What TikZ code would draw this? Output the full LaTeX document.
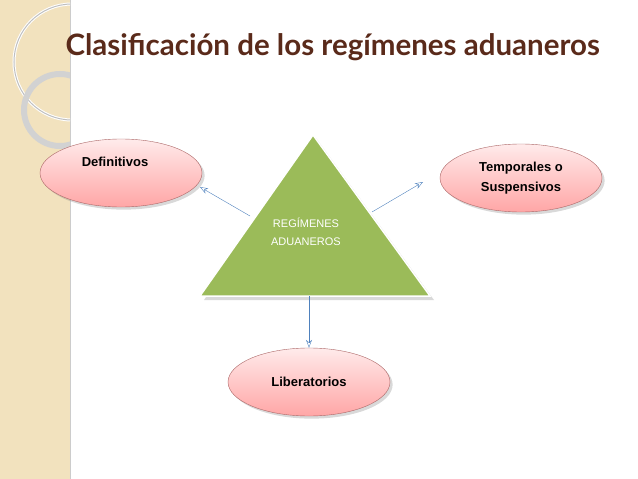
\documentclass[tikz,border=0pt]{standalone}
\usepackage{fontspec}
\setmainfont{Liberation Sans}
\newfontfamily\titlefont{Lato}
\usetikzlibrary{shapes.geometric,arrows.meta,shadows}
\definecolor{titlebrown}{HTML}{5A2A1A}
\definecolor{bandbeige}{HTML}{F2E2BE}
\definecolor{leafgreen}{HTML}{9BBB59}
\definecolor{linkblue}{HTML}{4F81BD}
\tikzset{
  regime/.style={ellipse, draw=red!45!black!60, top color=red!8, bottom color=red!35,
    minimum width=162pt, minimum height=68pt, font=\bfseries\fontsize{13}{20}\selectfont,
    align=center, drop shadow={opacity=0.3}},
  link/.style={-{Stealth[open,length=8pt]}, linkblue, thin}
}
\begin{document}
\begin{tikzpicture}[x=1pt,y=-1pt]
        \useasboundingbox (0,0) rectangle (638,479);
        % left band with rings
        \fill[bandbeige] (0,0) rectangle (70,479);
        \draw[gray!40] (70,0)--(70,479);
        \begin{scope}
            \clip (0,0) rectangle (70,479);
            \draw[white,line width=3pt] (72,62) circle(58);
            \draw[gray!50,line width=1pt] (72,62) circle(58);
            \draw[gray!35,line width=6pt] (60,110) circle(36);
        \end{scope}
        
        \node[anchor=west,text=titlebrown,font=\titlefont\bfseries\fontsize{29.5}{32}\selectfont] (title) at (62,47){Clasificación de los regímenes aduaneros};
        
        \node[regime] (D) at (121,173){};
        \node[font=\bfseries\fontsize{13}{20}\selectfont] (Dt) at (115,162){Definitivos};
        \node[regime] (T) at (521,178){Temporales o\\Suspensivos};
        \node[regime] (L) at (309,382){Liberatorios};
        
        \fill[black,opacity=0.15] (316,138)--(434,300)--(204,300)--cycle;
        \draw[leafgreen,fill=leafgreen,draw=white,line width=1.5pt] (313,135)--(430,296)--(200,296)--cycle;
        \node[text=white,font=\fontsize{11}{18}\selectfont,align=center] (R) at (306,232){REGÍMENES\\ADUANEROS};
        
        \coordinate (a) at (250,216);
        \coordinate (b) at (372,212);
        \coordinate (c) at (309,296);
        \coordinate (da) at (200,187);
        \coordinate (ta) at (423,182);
        \draw[link] (a)--(da);
        \draw[link] (b)--(ta);
        \draw[link] (c)--(L.north);
    \end{tikzpicture}
\end{document}
